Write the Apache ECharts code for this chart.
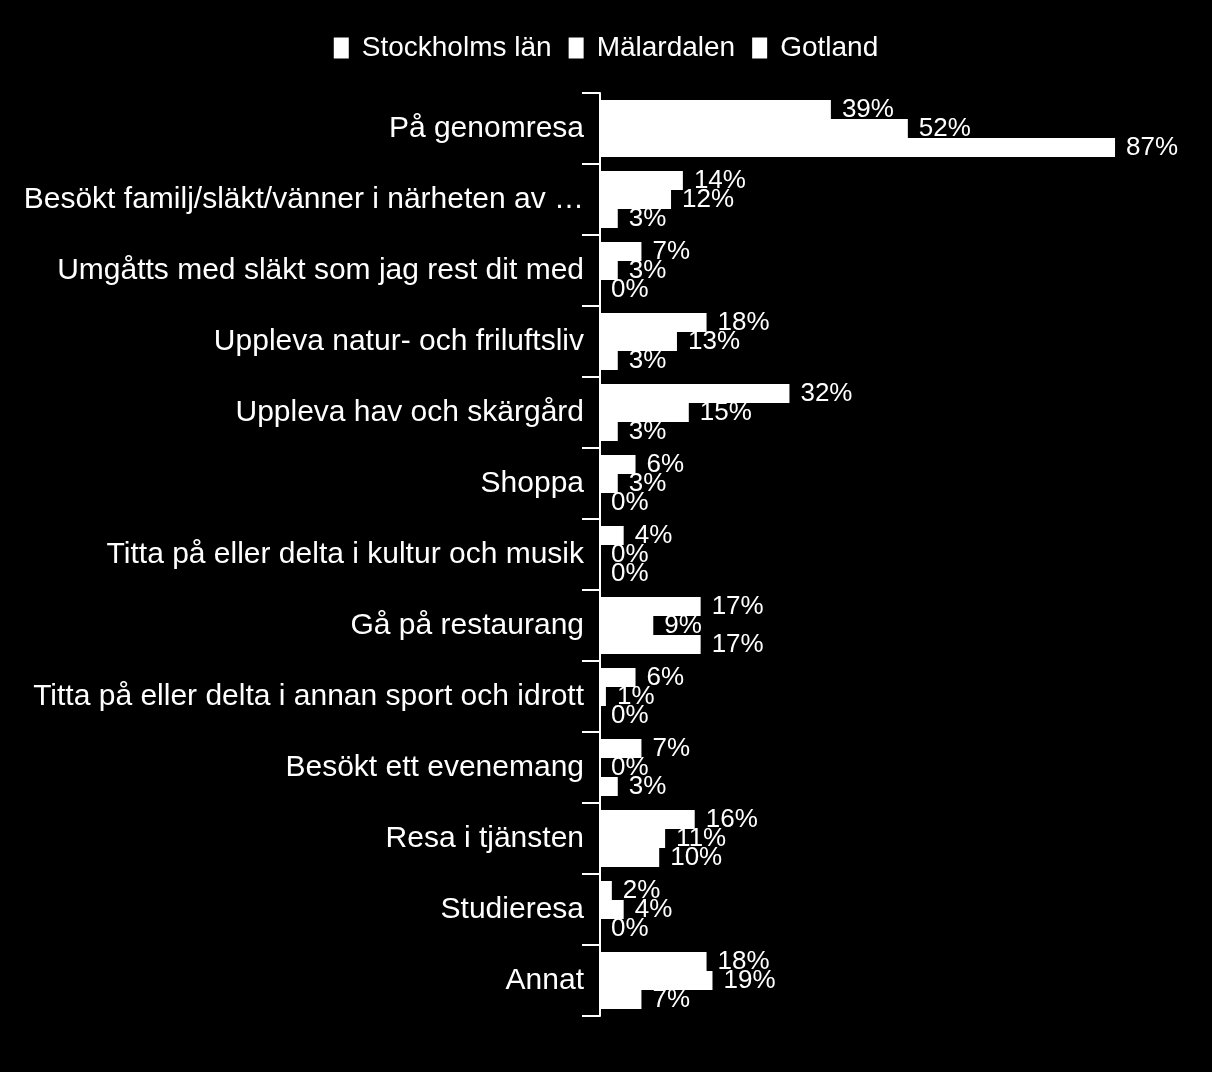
<!DOCTYPE html>
<html><head><meta charset="utf-8">
<script src="https://cdn.jsdelivr.net/npm/echarts@6/dist/echarts.min.js"></script>
<style>html,body{margin:0;padding:0;background:#000;}#c{width:1212px;height:1072px;}</style>
</head><body><div id="c"></div>
<script>
const categories = ["På genomresa","Besökt familj/släkt/vänner i närheten av …","Umgåtts med släkt som jag rest dit med","Uppleva natur- och friluftsliv","Uppleva hav och skärgård","Shoppa","Titta på eller delta i kultur och musik","Gå på restaurang","Titta på eller delta i annan sport och idrott","Besökt ett evenemang","Resa i tjänsten","Studieresa","Annat"];
const seriesNames = ["Stockholms län","Mälardalen","Gotland"];
const stockholm = [39,14,7,18,32,6,4,17,6,7,16,2,18];
const malardalen = [52,12,3,13,15,3,0,9,1,0,11,4,19];
const gotland = [87,3,0,3,3,0,0,17,0,3,10,0,7];
const values = [stockholm, malardalen, gotland];

const font = '"Liberation Sans", Arial, sans-serif';
const chart = echarts.init(document.getElementById('c'), null, {renderer:'canvas'});
chart.setOption({
  backgroundColor:'#000',
  animation:false,
  textStyle:{fontFamily:font},
  legend:{
    top:29, left:'center',
    itemWidth:15, itemHeight:21, itemGap:17,
    icon:'rect',
    textStyle:{color:'#fff', fontSize:28, fontFamily:font, padding:[0,0,0,8]},
    data:seriesNames
  },
  grid:{left:600, right:20, top:93, height:923, containLabel:false},
  xAxis:{type:'value', min:0, max:100, show:false},
  yAxis:{
    type:'category', inverse:true, data:categories,
    axisLine:{show:true, lineStyle:{color:'#fff', width:2}},
    axisTick:{show:true, length:18, lineStyle:{color:'#fff', width:2}},
    axisLabel:{color:'#fff', fontSize:30, fontFamily:font, margin:16}
  },
  series: values.map((v,i)=>({
    name:seriesNames[i], type:'bar', data:v,
    barGap:'0%', barWidth:19,
    itemStyle:{color:'#fff'},
    label:{show:true, position:'right', distance:11, color:'#fff', fontSize:26, fontFamily:font, formatter:'{c}%'}
  }))
});
</script></body></html>
